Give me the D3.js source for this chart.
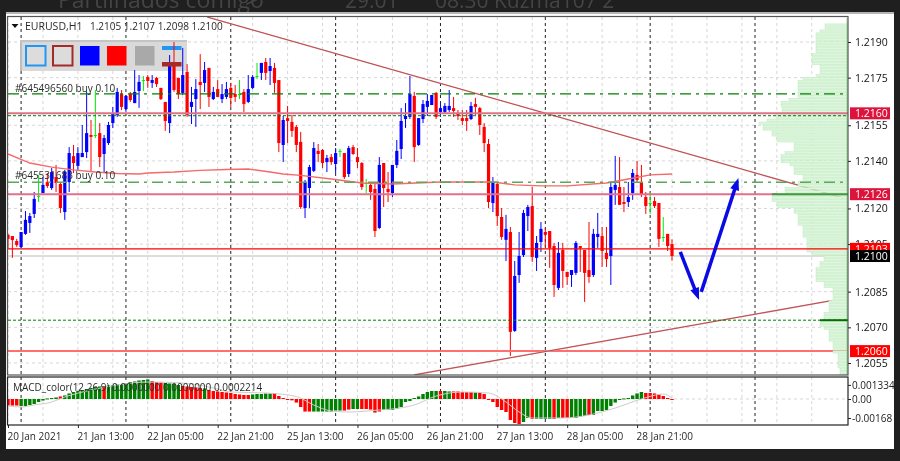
<!DOCTYPE html>
<html><head><meta charset="utf-8">
<script src="https://cdn.jsdelivr.net/npm/d3@7/dist/d3.min.js"></script>
<style>html,body{margin:0;padding:0;background:#1f1f1f}svg{display:block;filter:blur(.35px)}text{font-family:"Open Sans",sans-serif}</style>
</head><body><svg id="c" width="900" height="461"></svg>
<script>
const highs=[1.21093,1.21084,1.21072,1.21101,1.21189,1.21181,1.21269,1.21341,1.21332,1.21349,
1.21370,1.21383,1.21311,1.21362,1.21458,1.21467,1.21458,1.21551,1.21690,1.21572,
1.21698,1.21559,1.21509,1.21564,1.21627,1.21707,1.21698,1.21677,1.21690,1.21782,
1.21761,1.21757,1.21761,1.21761,1.21753,1.21707,1.21648,1.21845,1.21900,1.21749,
1.21875,1.21807,1.21711,1.21744,1.21849,1.21816,1.21791,1.21711,1.21740,1.21723,
1.21732,1.21728,1.21719,1.21740,1.21702,1.21761,1.21761,1.21812,1.21812,1.21833,
1.21833,1.21812,1.21740,1.21589,1.21631,1.21593,1.21551,1.21522,1.21320,1.21383,
1.21479,1.21471,1.21450,1.21425,1.21429,1.21454,1.21450,1.21433,1.21463,1.21467,
1.21454,1.21395,1.21324,1.21311,1.21307,1.21416,1.21391,1.21353,1.21383,1.21488,
1.21622,1.21643,1.21757,1.21690,1.21580,1.21656,1.21681,1.21677,1.21690,1.21643,
1.21643,1.21698,1.21669,1.21614,1.21614,1.21614,1.21648,1.21665,1.21627,1.21559,
1.21492,1.21332,1.21311,1.21202,1.21173,1.21122,1.20979,1.21101,1.21194,1.21215,
1.21290,1.21084,1.21143,1.21118,1.21105,1.21055,1.21059,1.21055,1.20933,1.20941,
1.21063,1.21042,1.21025,1.21143,1.21114,1.21181,1.21122,1.21122,1.21311,1.21421,
1.21416,1.21290,1.21311,1.21366,1.21400,1.21383,1.21269,1.21269,1.21248,1.21223,
1.21164,1.21093,1.21070];
const lows=[1.21034,1.20992,1.21038,1.21034,1.21089,1.21097,1.21160,1.21227,1.21265,1.21286,
1.21278,1.21269,1.21181,1.21152,1.21269,1.21349,1.21362,1.21416,1.21412,1.21358,
1.21496,1.21374,1.21353,1.21467,1.21538,1.21585,1.21614,1.21606,1.21648,1.21643,
1.21623,1.21694,1.21707,1.21707,1.21711,1.21656,1.21526,1.21517,1.21690,1.21660,
1.21677,1.21585,1.21555,1.21543,1.21618,1.21690,1.21627,1.21656,1.21669,1.21643,
1.21660,1.21627,1.21648,1.21660,1.21606,1.21643,1.21702,1.21744,1.21740,1.21740,
1.21719,1.21686,1.21437,1.21395,1.21475,1.21501,1.21437,1.21198,1.21160,1.21202,
1.21353,1.21395,1.21370,1.21353,1.21383,1.21349,1.21416,1.21324,1.21332,1.21425,
1.21370,1.21278,1.21265,1.21236,1.21080,1.21114,1.21206,1.21227,1.21248,1.21370,
1.21408,1.21538,1.21576,1.21395,1.21463,1.21559,1.21589,1.21635,1.21576,1.21585,
1.21601,1.21606,1.21585,1.21572,1.21551,1.21526,1.21572,1.21593,1.21509,1.21437,
1.21202,1.21185,1.21126,1.21068,1.20979,1.20580,1.20681,1.20887,1.20996,1.21105,
1.20975,1.20937,1.21017,1.21038,1.20950,1.20828,1.20857,1.20866,1.20878,1.20870,
1.20920,1.20933,1.20807,1.20887,1.20912,1.21034,1.20954,1.20954,1.20878,1.21215,
1.21215,1.21185,1.21206,1.21236,1.21311,1.21248,1.21177,1.21177,1.21202,1.21038,
1.21059,1.21021,1.20980];
const opens=[1.21089,1.21084,1.21063,1.21038,1.21093,1.21139,1.21177,1.21253,1.21265,1.21311,
1.21286,1.21332,1.21303,1.21185,1.21311,1.21420,1.21379,1.21416,1.21437,1.21509,
1.21509,1.21517,1.21429,1.21475,1.21559,1.21593,1.21681,1.21618,1.21681,1.21643,
1.21694,1.21740,1.21753,1.21728,1.21749,1.21707,1.21648,1.21559,1.21799,1.21749,
1.21686,1.21774,1.21627,1.21660,1.21732,1.21728,1.21791,1.21660,1.21702,1.21660,
1.21669,1.21707,1.21681,1.21681,1.21690,1.21648,1.21707,1.21757,1.21770,1.21816,
1.21778,1.21791,1.21740,1.21467,1.21580,1.21564,1.21543,1.21480,1.21202,1.21286,
1.21358,1.21442,1.21446,1.21395,1.21416,1.21387,1.21442,1.21433,1.21345,1.21458,
1.21416,1.21391,1.21307,1.21299,1.21282,1.21118,1.21391,1.21282,1.21265,1.21383,
1.21450,1.21576,1.21585,1.21673,1.21467,1.21576,1.21627,1.21635,1.21686,1.21606,
1.21606,1.21614,1.21622,1.21601,1.21580,1.21580,1.21576,1.21639,1.21622,1.21543,
1.21471,1.21223,1.21303,1.21164,1.21068,1.21101,1.20685,1.20920,1.21004,1.21168,
1.21210,1.20992,1.21059,1.21101,1.21105,1.21042,1.20866,1.21025,1.20933,1.20920,
1.20929,1.21042,1.21025,1.20941,1.20920,1.21080,1.21084,1.21013,1.21000,1.21278,
1.21290,1.21227,1.21227,1.21265,1.21341,1.21311,1.21248,1.21223,1.21231,1.21223,
1.21080,1.21093,1.21050];
const closes=[1.21072,1.21067,1.21046,1.21101,1.21152,1.21168,1.21240,1.21253,1.21299,1.21294,
1.21353,1.21307,1.21202,1.21353,1.21433,1.21391,1.21433,1.21433,1.21517,1.21501,
1.21509,1.21416,1.21496,1.21551,1.21601,1.21690,1.21627,1.21673,1.21656,1.21690,
1.21732,1.21740,1.21736,1.21740,1.21723,1.21660,1.21568,1.21799,1.21698,1.21681,
1.21761,1.21593,1.21648,1.21702,1.21719,1.21782,1.21669,1.21690,1.21669,1.21681,
1.21702,1.21665,1.21669,1.21681,1.21639,1.21702,1.21753,1.21757,1.21812,1.21770,
1.21799,1.21728,1.21475,1.21572,1.21568,1.21526,1.21467,1.21206,1.21311,1.21374,
1.21454,1.21429,1.21391,1.21412,1.21395,1.21433,1.21442,1.21332,1.21454,1.21429,
1.21395,1.21290,1.21307,1.21269,1.21105,1.21383,1.21286,1.21269,1.21383,1.21442,
1.21568,1.21589,1.21681,1.21458,1.21580,1.21639,1.21652,1.21677,1.21585,1.21622,
1.21631,1.21631,1.21610,1.21589,1.21568,1.21568,1.21631,1.21627,1.21551,1.21475,
1.21227,1.21311,1.21168,1.21080,1.21114,1.20681,1.20916,1.21000,1.21181,1.21206,
1.20996,1.21055,1.21114,1.21089,1.21034,1.20878,1.21013,1.20937,1.20912,1.20941,
1.21055,1.21034,1.20929,1.20912,1.21093,1.21093,1.21021,1.20987,1.21290,1.21299,
1.21215,1.21219,1.21248,1.21349,1.21320,1.21257,1.21210,1.21223,1.21210,1.21072,
1.21080,1.21042,1.21000];

const maBars=[0,5,10,15,20,25,30,32,38,44,50,55,60,63,67,74,81,88,99,111,116,122,128,137,142,147,152];
const maPrices=[1.21429,1.21391,1.21374,1.21362,1.21353,1.21347,1.21345,1.21349,1.21353,1.21360,1.21364,1.21366,1.21353,1.21345,1.21339,1.21324,1.21307,1.21303,1.21311,1.21311,1.21299,1.21295,1.21295,1.21307,1.21324,1.21341,1.21345];

const macdValues=[-.00059,-.00059,-.00059,-.00063,-.00063,-.00054,-.00045,-.00027,-.00014,.00005,
.00009,.00014,.00023,.00032,.00050,.00063,.00072,.00081,.00090,.00099,
.00108,.00113,.00117,.00122,.00126,.00131,.00135,.00140,.00153,.00158,
.00167,.00171,.00176,.00162,.00153,.00149,.00144,.00140,.00135,.00126,
.00117,.00113,.00108,.00104,.00099,.00095,.00081,.00072,.00068,.00063,
.00059,.00054,.00045,.00041,.00036,.00036,.00041,.00045,.00045,.00050,
.00050,.00054,.00027,.00009,-.00005,-.00012,-.00032,-.00072,-.00113,-.00113,
-.00113,-.00113,-.00113,-.00113,-.00113,-.00104,-.00104,-.00104,-.00095,-.00090,
-.00090,-.00090,-.00090,-.00095,-.00122,-.00113,-.00099,-.00099,-.00099,-.00086,
-.00072,-.00027,-.00018,.00009,.00023,.00045,.00063,.00072,.00072,.00072,
.00072,.00068,.00068,.00068,.00063,.00063,.00063,.00059,.00054,.00045,
-.00005,-.00027,-.00072,-.00099,-.00117,-.00189,-.00216,-.00225,-.00207,-.00171,
-.00180,-.00180,-.00180,-.00180,-.00180,-.00180,-.00171,-.00171,-.00171,-.00171,
-.00171,-.00162,-.00153,-.00144,-.00144,-.00108,-.00108,-.00099,-.00063,-.00032,
-.00009,.00005,.00009,.00032,.00050,.00063,.00054,.00054,.00050,.00041,
.00027,.00009,-.00005];
const macdColours="RRRGGGGGGGGGRGGGGGGGGGRGGGGGGGGGGRRRGGGGRRRRRGRRRRRRRRRRGGGGGRRRRRRRRRGGGGGGGRRGGRRRRRGGGGGGGGGGGGGRGGRRRRRGRRRRRRRRRRGGRGGGGRGRRGGGGRGGGGGGGGGGGGRRRRRRR".split("");
const signalBars=[0,3,6,10,13,19,25,32,40,47,51,59,66,70,74,78,85,88,93,98,104,110,114,117,120,127,133,139,145,150,152];
const signalValues=[-.00063,-.00072,-.00054,-.00027,.00018,.00081,.00126,.00153,.00144,.00099,.00063,.00054,.00023,-.00054,-.00108,-.00117,-.00099,-.00090,-.00054,.00027,.00063,.00054,-.00027,-.00117,-.00171,-.00171,-.00144,-.00081,0,.00045,.00009];

// volume profile, top row to bottom row
const profileTopPrice=1.21976, profileStep=0.000125;
const profileVolumes=[23,23,28,32,32,32,32,32,32,32,36,36,36,36,28,28,28,32,45,50,50,50,50,50,50,59,67,67,66,66,72,72,81,89,85,85,76,76,71,71,54,54,54,63,67,67,67,58,54,54,54,45,45,50,50,63,63,71,76,76,71,71,54,54,50,50,50,50,45,45,45,45,41,41,41,41,41,36,24,24,28,28,32,32,32,32,32,24,24,15,15,15,15,19,19,19,19,24,24,24,28,28,24,19,19,19,19,15,15,15,15,10,10,10,10,10,8,8,10];

const priceTicks=[1.2190,1.2175,1.2155,1.2140,1.2120,1.2105,1.2085,1.2070,1.2055];
const dateTickBars=[0,16,32,48,64,80,96,112,128,144];
const dateTickLabels=["20 Jan 2021","21 Jan 13:00","22 Jan 05:00","22 Jan 21:00","25 Jan 13:00","26 Jan 05:00","26 Jan 21:00","27 Jan 13:00","28 Jan 05:00","28 Jan 21:00"];
const gridBars=d3.range(0,192,8);
const separatorBars=[3,27,51,75,99,123,147,171];
const macdTicks=[0.00127,0,-0.00171];
const macdTickLabels=["0.001334","0.00","-0.00168"];

const downTrendBars=[45.6,191.2], downTrendPrices=[1.22005,1.21244];
const upTrendBars=[93,188.7], upTrendPrices=[1.2050,1.20813];
const arrowDownBars=[153.9,158.2], arrowDownPrices=[1.21017,1.20815];
const arrowUpBars=[158.7,167.2], arrowUpPrices=[1.20849,1.21328];

const W=900,H=461,L=8,R=848,T=17,B=375,ST=377,SB=425;
const x=d3.scaleLinear().domain([0,152]).range([8,672]);
const y=d3.scaleLinear().domain([1.2190,1.2055]).range([42,363]);
const ym=d3.scaleLinear().domain([0.0018,-0.0018]).range([379,419]);
const vol=d3.scaleLinear().domain([0,90]).range([R,R-90]);

const svg=d3.select("#c");
svg.append("rect").attr("width",W).attr("height",H).attr("fill","#1f1f1f");
const hdr=svg.append("g").attr("fill","#444444");
hdr.append("text").attr("x",58).attr("y",8).attr("font-size",23).text("Partilhados comigo");
hdr.append("text").attr("x",245).attr("y",8).attr("font-size",23).text(">");
hdr.append("text").attr("x",345).attr("y",8).attr("font-size",21).text("29:01");
hdr.append("text").attr("x",435).attr("y",8).attr("font-size",21).text("08:30 Kuzma107 2");
svg.append("rect").attr("x",6).attr("y",12).attr("width",888).attr("height",437).attr("fill","#fff");
svg.append("rect").attr("x",6).attr("y",12).attr("width",888).attr("height",2).attr("fill","#b5b5b5");

const defs=svg.append("defs");
defs.append("clipPath").attr("id","cm").append("rect").attr("x",L).attr("y",T).attr("width",R-L).attr("height",B-T);
defs.append("clipPath").attr("id","cs").append("rect").attr("x",L).attr("y",ST).attr("width",R-L).attr("height",SB-ST);

const m=svg.append("g").attr("clip-path","url(#cm)");
const s=svg.append("g").attr("clip-path","url(#cs)");

function vlines(g,bars,y0,y1,col,dash,w){g.selectAll(null).data(bars).join("line").attr("x1",d=>x(d)).attr("x2",d=>x(d)).attr("y1",y0).attr("y2",y1).attr("stroke",col).attr("stroke-dasharray",dash).attr("stroke-width",w);}
const gridCol="#d6d6d6";
vlines(m,gridBars,T,B,gridCol,"3,3",1);
vlines(s,gridBars,ST,SB,gridCol,"3,3",1);
m.selectAll(null).data(priceTicks).join("line").attr("x1",L).attr("x2",R).attr("y1",d=>y(d)).attr("y2",d=>y(d)).attr("stroke",gridCol).attr("stroke-dasharray","3,3");
s.append("line").attr("x1",L).attr("x2",R).attr("y1",ym(0)).attr("y2",ym(0)).attr("stroke",gridCol).attr("stroke-dasharray","3,3");
vlines(m,separatorBars,T,B,"#222","3,3",1);
vlines(s,separatorBars,ST,SB,"#222","3,3",1);

// toolbar
const tb=m.append("g");
tb.append("rect").attr("x",20).attr("y",40).attr("width",167).attr("height",31).attr("fill","#d9d9d9");
tb.append("rect").attr("x",20).attr("y",40).attr("width",2).attr("height",31).attr("fill","#bdbdbd");
tb.append("rect").attr("x",20).attr("y",40).attr("width",167).attr("height",2).attr("fill","#c4c4c4");
const btn=(xx,fill,st)=>tb.append("rect").attr("x",xx).attr("y",46).attr("width",19.5).attr("height",19.5).attr("fill",fill).attr("stroke",st||"none").attr("stroke-width",st?2:0);
btn(26,"#dcdcdc","#2196f3");btn(53,"#dcdcdc","#a52a2a");btn(80,"#0000ff");btn(107,"#ff0000");btn(135,"#a9a9a9");
tb.append("rect").attr("x",162).attr("y",46).attr("width",19.5).attr("height",4).attr("fill","#2196f3");

const hline=(g,p,col,w,dash,x2)=>g.append("line").attr("x1",L).attr("x2",x2||R).attr("y1",y(p)).attr("y2",y(p)).attr("stroke",col).attr("stroke-width",w).attr("stroke-dasharray",dash||null);
hline(m,1.2100,"#dddddd",2);

// candles
const idx=d3.range(highs.length);
const colour=i=>closes[i]>opens[i]?"#0000ff":closes[i]<opens[i]?"#ff0000":"#00ee00";
m.selectAll(null).data(idx).join("line").attr("x1",i=>x(i)).attr("x2",i=>x(i)).attr("y1",i=>y(highs[i])).attr("y2",i=>y(lows[i])).attr("stroke",colour).attr("stroke-width",1);
m.selectAll(null).data(idx).join("rect").attr("x",i=>x(i)-1.6).attr("width",3.2)
 .attr("y",i=>y(Math.max(opens[i],closes[i])))
 .attr("height",i=>Math.max(1,Math.abs(y(opens[i])-y(closes[i])))).attr("fill",colour);
m.append("rect").attr("x",162).attr("y",62).attr("width",19.5).attr("height",4.5).attr("fill","#a52a2a");

// moving average
m.append("path").attr("d",d3.line().x(d=>x(d[0])).y(d=>y(d[1]))(d3.zip(maBars,maPrices))).attr("fill","none").attr("stroke","#f56a6a").attr("stroke-width",1.4);

// lower lines & trends (profile sits over them)
hline(m,1.2126,"#e0708c",2);
hline(m,1.2060,"#ff6f6f",2);
const trend=(bars,prices)=>{const d=d3.line().x(v=>x(v[0])).y(v=>y(v[1]))(d3.zip(bars,prices));
 m.append("path").attr("d",d).attr("stroke","#e8b0b0").attr("stroke-width",1.6).attr("fill","none");
 m.append("path").attr("d",d).attr("stroke","#a51f28").attr("stroke-width",.7).attr("fill","none");};
trend(downTrendBars,downTrendPrices);
trend(upTrendBars,upTrendPrices);

// profile
const rowH=y(1.2190-profileStep)-y(1.2190);
m.selectAll(null).data(profileVolumes).join("rect")
 .attr("x",d=>vol(d)).attr("width",d=>R-vol(d))
 .attr("y",(d,i)=>y(profileTopPrice-i*profileStep)).attr("height",rowH-.8)
 .attr("fill","#dff5df").attr("stroke","#b8ebb8").attr("stroke-width",.5);
m.append("line").attr("x1",R-1).attr("x2",R-1).attr("y1",18).attr("y2",B).attr("stroke","#8fdd8f");

// upper lines
hline(m,1.21682,"#008000",1.2,"11,5,3,5");
hline(m,1.2160,"#e0708c",2);
hline(m,1.21590,"#008000",1,"3,2");
hline(m,1.21310,"#5aa85a",1.6,"11,5,3,5");
hline(m,1.2103,"#ff0000",1.4);
hline(m,1.20730,"#008000",1,"3,2");
m.append("line").attr("x1",vol(76)).attr("x2",R).attr("y1",y(1.2126)).attr("y2",y(1.2126)).attr("stroke","#3f9a3f").attr("stroke-width",2);
m.append("line").attr("x1",vol(28)).attr("x2",R).attr("y1",y(1.2073)).attr("y2",y(1.2073)).attr("stroke","#007000").attr("stroke-width",2);

// arrows
function arrow(bars,prices){
 const x0=x(bars[0]),y0=y(prices[0]),x1=x(bars[1]),y1=y(prices[1]);
 const a=Math.atan2(y1-y0,x1-x0),l=13,w=.36;
 m.append("line").attr("x1",x0).attr("y1",y0).attr("x2",x1-Math.cos(a)*8).attr("y2",y1-Math.sin(a)*8).attr("stroke","#0a0ae6").attr("stroke-width",3.5);
 m.append("path").attr("d",`M${x1},${y1}L${x1-l*Math.cos(a-w)},${y1-l*Math.sin(a-w)}L${x1-l*Math.cos(a+w)},${y1-l*Math.sin(a+w)}Z`).attr("fill","#0a0ae6");
}
arrow(arrowDownBars,arrowDownPrices);
arrow(arrowUpBars,arrowUpPrices);

// texts
const txt=(g,xx,yy,t,fs,col)=>g.append("text").attr("x",xx).attr("y",yy).attr("font-size",fs||10).attr("fill",col||"#2a2a2a").text(t);
m.append("path").attr("d","M11.5,24L18.5,24L15,28Z").attr("fill","#111");
txt(svg,25,30,"EURUSD,H1",10.5);
txt(svg,90,30,"1.2105 1.2107 1.2098 1.2100",10);
txt(svg,15,92,"#645496560 buy 0.10",10);
txt(svg,15,179,"#645531683 buy 0.10",10);

// MACD
s.selectAll(null).data(macdValues).join("rect")
 .attr("x",(d,i)=>x(i)-1.7).attr("width",3.4)
 .attr("y",d=>Math.min(ym(d),ym(0))).attr("height",d=>Math.max(1,Math.abs(ym(d)-ym(0))))
 .attr("fill",(d,i)=>macdColours[i]==="R"?"#ff0000":"#008000");
s.append("path").attr("d",d3.line().curve(d3.curveMonotoneX).x(d=>x(d[0])).y(d=>ym(d[1]))(d3.zip(signalBars,signalValues))).attr("fill","none").attr("stroke","#cccccc").attr("stroke-width",1);
txt(svg,13,391,"MACD_color(12,26,9) 0.0000000 0.0000000 0.0002214",10);

// frames
svg.append("rect").attr("x",7.5).attr("y",16.5).attr("width",R-7.5).attr("height",B-16.5).attr("fill","none").attr("stroke","#555").attr("stroke-width",1.2);
svg.append("rect").attr("x",7.5).attr("y",ST).attr("width",R-7.5).attr("height",SB-ST).attr("fill","none").attr("stroke","#222").attr("stroke-width",1.2);

// axes
const ax=d3.axisBottom(x).tickValues(dateTickBars).tickSize(3).tickFormat((d,i)=>dateTickLabels[i]);
const gx=svg.append("g").attr("transform",`translate(0,${SB})`).call(ax);
gx.select(".domain").remove();
gx.selectAll("line").attr("stroke","#222");
gx.selectAll("text").attr("text-anchor","start").attr("dx",-1).attr("y",8).attr("font-size",10).attr("fill","#2a2a2a").style("font-family",'"Open Sans",sans-serif');

const ay=d3.axisRight(y).tickValues(priceTicks).tickSize(3).tickFormat(d3.format(".4f"));
const gy=svg.append("g").attr("transform",`translate(${R},0)`).call(ay);
gy.select(".domain").remove();
gy.selectAll("line").attr("stroke","#222");
gy.selectAll("text").attr("x",7).attr("font-size",10.5).attr("fill","#111").style("font-family",'"Open Sans",sans-serif');

const am=d3.axisRight(ym).tickValues(macdTicks).tickSize(3).tickFormat((d,i)=>macdTickLabels[i]);
const gm=svg.append("g").attr("transform",`translate(${R},0)`).call(am);
gm.select(".domain").remove();
gm.selectAll("line").attr("stroke","#222");
gm.selectAll("text").attr("x",4).attr("font-size",10).attr("fill","#222").style("font-family",'"Open Sans",sans-serif');

// price labels
const priceTags=[[1.2160,"#dc143c"],[1.2126,"#dc143c"],[1.2103,"#ff0000"],[1.2100,"#000000"],[1.2060,"#ff0000"]];
priceTags.forEach(([p,c])=>{
 svg.append("rect").attr("x",850).attr("y",y(p)-6).attr("width",40).attr("height",12).attr("fill",c);
 svg.append("text").attr("x",855).attr("y",y(p)+3.8).attr("font-size",10.5).attr("fill","#fff").text(p.toFixed(4));
});
</script></body></html>
